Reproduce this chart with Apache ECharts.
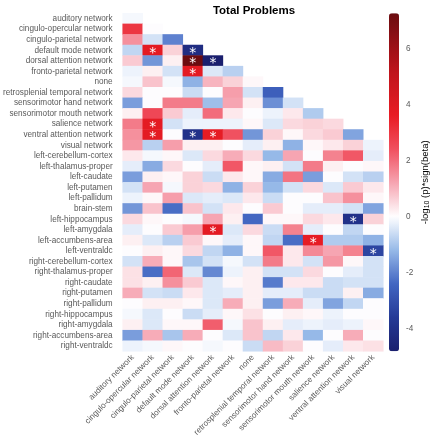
<!DOCTYPE html>
<html>
<head>
<meta charset="utf-8">
<script src="https://cdn.jsdelivr.net/npm/echarts@6/dist/echarts.min.js"></script>
<style>
html,body{margin:0;padding:0;background:#fff;}
#chart{width:435px;height:440px;}
</style>
</head>
<body>
<div id="chart"></div>
<script>
// ---------------- DATA ----------------
const colLabels = [
  'auditory network','cingulo-opercular network','cingulo-parietal network',
  'default mode network','dorsal attention network','fronto-parietal network',
  'none','retrosplenial temporal network','sensorimotor hand network',
  'sensorimotor mouth network','salience network','ventral attention network',
  'visual network'
];
const subcorticalLabels = [
  'left-cerebellum-cortex','left-thalamus-proper','left-caudate','left-putamen',
  'left-pallidum','brain-stem','left-hippocampus','left-amygdala',
  'left-accumbens-area','left-ventraldc','right-cerebellum-cortex',
  'right-thalamus-proper','right-caudate','right-putamen','right-pallidum',
  'right-hippocampus','right-amygdala','right-accumbens-area','right-ventraldc'
];
const rowLabels = colLabels.concat(subcorticalLabels);

// lower triangle (network x network), row i has i+1 values
const networkValues = [
  [-0.1],
  [3.0, 0.0],
  [1.5, -0.5, -2.0],
  [-0.7, 3.8, 0.6, -4.2],
  [0.7, -1.7, 0.2, 7.25, -4.8],
  [-0.2, 0.2, -0.5, 3.8, -0.4, -0.8],
  [-0.1, 0.8, -0.1, -1.3, 1.0, 0.6, 0.1],
  [0.5, 0.0, 0.0, -0.6, 0.0, 1.3, -0.5, -2.6],
  [-1.6, 0.0, 1.8, 1.8, -1.1, 1.2, 0.2, -1.8, -0.5],
  [0.2, 2.6, 0.7, -0.3, 2.0, 0.3, 0.0, -0.2, 0.3, -0.9],
  [1.8, 3.8, -0.5, -0.2, -0.2, -0.2, 0.1, -0.4, 0.5, 0.6, 0.5],
  [1.5, 3.8, 0.0, -4.0, 3.7, 2.4, -1.7, 0.6, 0.1, 0.5, 0.7, -1.5],
  [1.4, -0.8, 1.3, 0.2, 0.2, 0.0, -0.3, 0.2, -1.3, 0.1, 0.3, 0.6, -0.2]
];
// subcortical x network, 13 values per row
const subcorticalValues = [
  [0.3, -0.1, 0.1, -0.4, 0.5, 1.1, 0.5, -1.2, 1.2, 0.0, 1.7, 2.3, -0.3],
  [-0.3, -1.4, 0.5, 0.0, -0.3, 2.3, 0.1, 0.2, -0.5, 1.8, 0.2, 0.0, 0.1],
  [-1.6, 0.2, 0.1, 0.6, -0.6, 0.3, 0.1, -1.4, 1.9, -1.6, 0.0, -0.5, -0.8],
  [-0.5, 1.2, -0.1, 0.6, 0.5, -1.3, 0.6, -1.2, -0.5, 0.5, -0.4, 0.7, 0.3],
  [-0.2, 0.1, 1.3, -0.4, -0.3, -0.4, 0.3, -0.6, 0.0, 0.0, 0.8, 1.5, 0.1],
  [-1.7, 0.8, -2.3, 0.8, -0.5, 0.3, 0.0, 0.7, 0.0, -0.3, -0.3, -0.5, -1.5],
  [0.5, 0.1, 0.0, -0.1, 1.2, 0.2, -2.4, 0.1, 0.1, 0.5, 0.3, -4.0, 0.6],
  [-0.3, 0.0, 0.7, 1.3, 3.8, -0.4, 0.5, -0.6, 1.7, -0.3, 0.0, -0.7, 0.0],
  [0.2, -0.4, -0.8, 0.7, 0.1, -0.3, 0.1, -0.7, -2.3, 3.7, -0.9, -0.9, -1.3],
  [0.0, 0.2, 0.1, 0.5, -0.7, -1.3, 0.1, 2.3, 0.3, 1.6, 1.2, 1.7, -3.3],
  [-0.5, 1.1, 0.1, -1.0, -0.5, -0.1, -0.5, 1.8, 0.3, -0.5, 1.4, 0.1, -0.5],
  [0.4, -2.3, 2.1, -0.4, -1.9, -0.2, 0.2, -0.5, -0.5, 0.5, 0.0, -0.3, -0.5],
  [0.4, 0.2, 1.5, 0.7, -0.4, 0.1, 0.2, -2.1, 0.3, 0.3, -0.6, -0.5, -0.5],
  [1.1, -0.5, -0.6, 0.3, -0.4, -0.3, 0.2, -0.3, -0.3, -0.6, -0.6, 0.2, -1.4],
  [0.0, 0.2, 0.2, 0.1, -0.4, 1.1, 0.2, -1.6, 1.1, -0.3, -1.5, -0.7, 0.0],
  [-0.1, -0.4, 0.0, -0.6, -0.3, 0.1, 0.4, 0.0, 0.2, 0.1, -0.2, 0.0, 0.0],
  [0.2, -0.4, 0.1, 0.1, 2.2, -0.1, 0.8, 0.2, -0.3, -0.2, -0.3, -0.2, 0.1],
  [-1.6, 1.1, -1.0, 1.1, 0.0, -0.4, 0.8, -0.7, 0.3, -1.2, 0.0, 1.1, 0.0],
  [-0.2, -0.1, 0.1, 0.0, -0.1, 0.0, -0.6, 0.9, 0.6, 0.0, -0.3, 0.3, 0.4]
];
// significant cells: [row, column]
const significantCells = [
  [3,1],[3,3],[4,3],[4,4],[5,3],[10,1],[11,1],[11,3],[11,4],
  [19,11],[20,4],[21,9],[22,12]
];
const colorMin = -4.8, colorMax = 7.25;
const title = 'Total Problems';

// ---------------- BUILD ----------------
const allRows = networkValues.concat(subcorticalValues);
const sigSet = new Set(significantCells.map(c => c[0] + '_' + c[1]));
const heatData = [];
allRows.forEach((row, r) => {
  row.forEach((v, c) => heatData.push([c, r, v]));
});

// value-based colour stops -> evenly spaced array for visualMap
const stops = [
  [-4.8, [26, 31, 110]],
  [-3.6, [37, 58, 150]],
  [-2.4, [66, 102, 194]],
  [-1.2, [150, 185, 232]],
  [0, [255, 255, 255]],
  [1.2, [246, 165, 178]],
  [2.4, [240, 80, 95]],
  [3.6, [233, 28, 36]],
  [5.2, [190, 20, 28]],
  [7.25, [107, 12, 16]]
];
function colorAt(v) {
  for (let i = 0; i < stops.length - 1; i++) {
    const a = stops[i], b = stops[i + 1];
    if (v <= b[0]) {
      const t = Math.max(0, (v - a[0]) / (b[0] - a[0]));
      const c = a[1].map((x, k) => Math.round(x + (b[1][k] - x) * t));
      return 'rgb(' + c.join(',') + ')';
    }
  }
  return 'rgb(' + stops[stops.length - 1][1].join(',') + ')';
}
const N = 61;
const rampColors = [];
for (let i = 0; i < N; i++) rampColors.push(colorAt(colorMin + (colorMax - colorMin) * i / (N - 1)));

const GL = 114.7, GT = 13.3, GW = 268.6, GH = 338;
const FONT = 'Liberation Sans, Arial, sans-serif';
const chart = echarts.init(document.getElementById('chart'), null, {renderer: 'canvas'});
chart.setOption({
  backgroundColor: '#ffffff',
  animation: false,
  title: {
    text: title, left: GL + GW / 2, top: 0, textAlign: 'center',
    textStyle: {fontFamily: FONT, fontSize: 11.5, fontWeight: 'bold', color: '#000'}
  },
  grid: [
    {left: GL, top: GT, width: GW, height: GH},
    {left: 389, top: GT, width: 10, height: GH}
  ],
  xAxis: [
    {
      type: 'category', data: colLabels, gridIndex: 0,
      axisLine: {show: false}, axisTick: {show: false}, splitLine: {show: false},
      axisLabel: {rotate: 45, interval: 0, margin: 5, fontSize: 8.2, color: '#595959', fontFamily: FONT}
    },
    {type: 'value', gridIndex: 1, show: false, min: 0, max: 1}
  ],
  yAxis: [
    {
      type: 'category', data: rowLabels, inverse: true, gridIndex: 0,
      axisLine: {show: false}, axisTick: {show: false}, splitLine: {show: false},
      axisLabel: {interval: 0, margin: 10, fontSize: 8.2, color: '#595959', fontFamily: FONT}
    },
    {
      type: 'value', gridIndex: 1, position: 'right', min: colorMin, max: colorMax,
      axisLine: {show: false}, axisTick: {show: false}, splitLine: {show: false},
      axisLabel: {show: true, showMinLabel: false, showMaxLabel: false, margin: 7,
        fontSize: 8.2, color: '#595959', fontFamily: FONT}
    }
  ],
  visualMap: {
    type: 'continuous', min: colorMin, max: colorMax, calculable: false,
    seriesIndex: 0, dimension: 2,
    orient: 'vertical', left: 389, top: GT, itemWidth: 10, itemHeight: GH,
    padding: 0, text: null, showLabel: false, hoverLink: false,
    inRange: {color: rampColors}
  },
  graphic: [{
    type: 'text', x: 425, y: GT + GH / 2, rotation: Math.PI / 2,
    style: {
      text: '{a|-log}{s|10}{a| (p)*sign(beta)}',
      align: 'center', verticalAlign: 'middle',
      rich: {
        a: {fontSize: 9.5, fill: '#000', fontFamily: FONT},
        s: {fontSize: 7, fill: '#000', fontFamily: FONT, padding: [5, 0, 0, 0]}
      }
    }
  }],
  series: [
    {
      type: 'heatmap', xAxisIndex: 0, yAxisIndex: 0, data: heatData,
      itemStyle: {borderWidth: 0},
      label: {
        show: true, color: '#fff', fontSize: 14, fontWeight: 'normal', offset: [0, 3],
        fontFamily: 'DejaVu Sans, sans-serif',
        formatter: p => sigSet.has(p.data[1] + '_' + p.data[0]) ? '*' : ''
      },
      emphasis: {disabled: true}
    },
    {type: 'scatter', xAxisIndex: 1, yAxisIndex: 1, data: [], silent: true}
  ]
});
</script>
</body>
</html>
